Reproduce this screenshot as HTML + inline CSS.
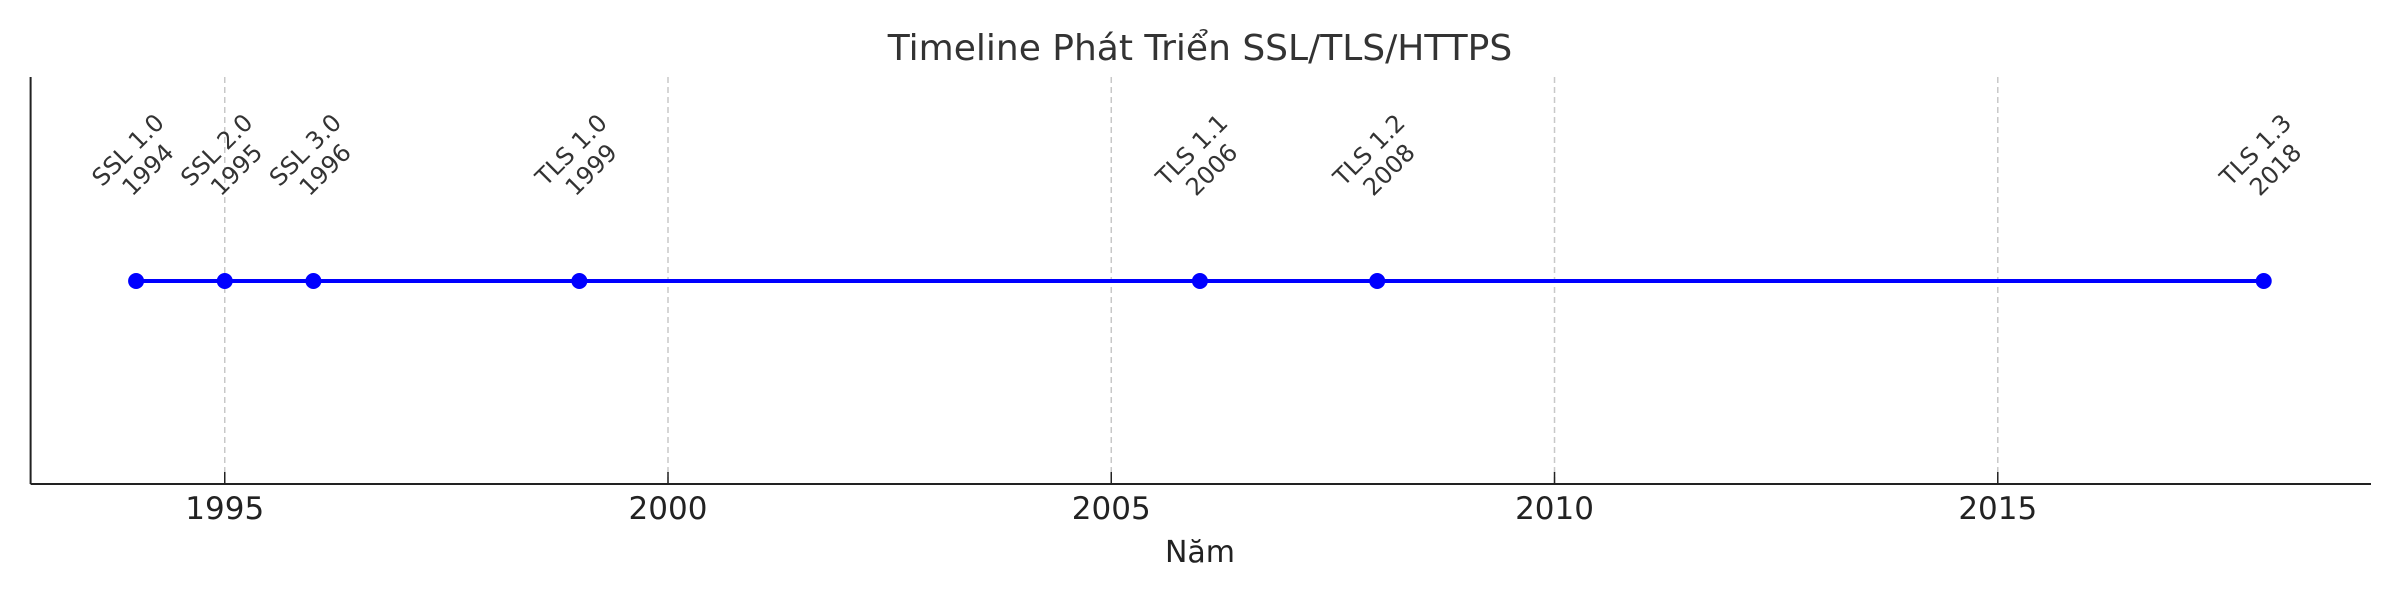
<!DOCTYPE html>
<html><head><meta charset="utf-8"><style>
html,body{margin:0;padding:0;background:#fff;}
svg text{font-family:"DejaVu Sans","Liberation Sans",sans-serif;}
</style></head><body>
<svg id="chart" width="2400" height="600" viewBox="0 0 2400 600">
<text x="1200" y="60" text-anchor="middle" font-size="36" fill="#333">Timeline Phát Triển SSL/TLS/HTTPS</text>
<g id="grid"></g>
<g id="axes"></g>
<g id="series"></g>
<g id="labels"></g>
<text x="1200" y="562" text-anchor="middle" font-size="30" fill="#222">Năm</text>
</svg>
<script>
const years = [1994, 1995, 1996, 1999, 2006, 2008, 2018];
const versions = ["SSL 1.0", "SSL 2.0", "SSL 3.0", "TLS 1.0", "TLS 1.1", "TLS 1.2", "TLS 1.3"];
const xTicks = [1995, 2000, 2005, 2010, 2015];
const xMin = 1992.81, xMax = 2019.21;
const plotLeft = 30.6, plotRight = 2371, plotTop = 77, plotBottom = 484, lineY = 281;
const NS = "http://www.w3.org/2000/svg";
function sx(v){ return plotLeft + (v - xMin) / (xMax - xMin) * (plotRight - plotLeft); }
function mk(tag, attrs, parent){ const e = document.createElementNS(NS, tag); for (const k in attrs) e.setAttribute(k, attrs[k]); parent.appendChild(e); return e; }
const gridG = document.getElementById('grid'), axesG = document.getElementById('axes'), seriesG = document.getElementById('series'), labelsG = document.getElementById('labels');
xTicks.forEach(t => {
  const x = sx(t);
  const g = mk('line', {x1:x, x2:x, y1:plotTop, y2:plotBottom, stroke:'#c8c8c8', 'stroke-width':1.5, 'stroke-dasharray':'6,4'}, gridG);
  
  
  const tk = mk('line', {x1:x, x2:x, y1:plotBottom, y2:plotBottom-12, stroke:'#222', 'stroke-width':1.5}, axesG);
  
  
  const tl = mk('text', {x:x, y:519, 'text-anchor':'middle', 'font-size':31, fill:'#222'}, axesG);
  tl.textContent = t;
  
  
});
const ya = mk('line', {x1:plotLeft, x2:plotLeft, y1:plotTop, y2:plotBottom, stroke:'#222', 'stroke-width':2}, axesG);


const xa = mk('line', {x1:plotLeft, x2:plotRight, y1:plotBottom, y2:plotBottom, stroke:'#222', 'stroke-width':2}, axesG);


const pl = mk('polyline', {points: years.map(y => sx(y) + ',' + lineY).join(' '), fill:'none', stroke:'#0000ff', 'stroke-width':4}, seriesG);


years.forEach((y, i) => {
  const x = sx(y);
  const c = mk('ellipse', {cx:x, cy:lineY, rx:8, ry:8, fill:'#0000ff'}, seriesG);
  
  
  const t = mk('text', {transform:'translate(' + (x + 2) + ',160) rotate(-45)', 'text-anchor':'middle', 'font-size':24, fill:'#333'}, labelsG);
  
  
  const a = mk('tspan', {x:0, y:-6}, t); a.textContent = versions[i];
  const b = mk('tspan', {x:0, y:22}, t); b.textContent = y;
});
</script>
</body></html>
